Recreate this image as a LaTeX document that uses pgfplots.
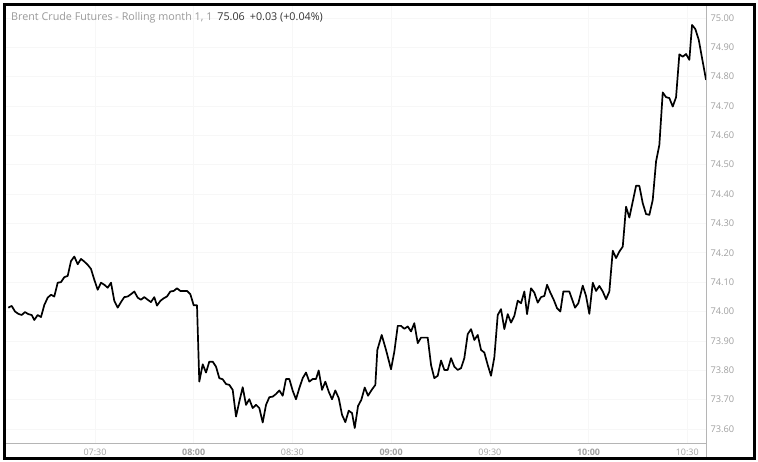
\documentclass[border=0pt]{standalone}
\usepackage{pgfplots}
\pgfplotsset{compat=1.18}
\usepackage{fontspec}
\setmainfont{Open Sans}
\definecolor{lbl}{HTML}{A0A0A0}
\definecolor{lblb}{HTML}{808080}
\definecolor{ttl}{HTML}{9A9A9A}
\definecolor{val}{HTML}{333333}
\definecolor{axl}{HTML}{B5B5B5}
\definecolor{grd}{HTML}{F7F7F7}
\begin{document}
\begin{tikzpicture}
\path[use as bounding box] (0,0) rectangle (758bp,462bp);
\begin{axis}[
  at={(6bp,19bp)}, anchor=south west,
  scale only axis, width=700bp, height=438bp,
  xmin=2.95, xmax=215.7, ymin=73.552, ymax=75.044,
  axis x line*=bottom, axis y line*=right,
  axis line style={axl, line width=0.8bp},
  x axis line style={-}, y axis line style={-},
  major tick length=0pt,
  grid=major, grid style={grd, line width=0.6bp},
  xtick={30,60,90,120,150,180,210},
  xticklabels={07:30,\textbf{08:00},08:30,\textbf{09:00},09:30,\textbf{10:00},10:30},
  x tick label style={font=\fontsize{9}{10}\selectfont, text=lbl, yshift=-2bp},
  ytick={73.6,73.7,73.8,73.9,74.0,74.1,74.2,74.3,74.4,74.5,74.6,74.7,74.8,74.9,75.0},
  yticklabel pos=right,
  y tick label style={font=\fontsize{9.3}{10}\selectfont, text=lbl, xshift=1bp},
  /pgf/number format/assume math mode=true,
  yticklabel={\pgfmathprintnumber[fixed,precision=2,fixed zerofill]{\tick}},
  clip=true,
]
\addplot[black, line width=1.7bp, line join=round] table {
m v
3.65 74.013
4.68 74.019
5.68 74.000
6.69 73.992
7.72 73.988
8.72 73.998
9.73 73.991
10.76 73.988
11.55 73.971
12.58 73.988
13.59 73.981
14.59 74.022
15.62 74.047
16.63 74.057
17.63 74.051
18.66 74.098
19.67 74.100
20.67 74.117
21.70 74.121
22.71 74.172
23.71 74.187
24.74 74.161
25.74 74.179
26.75 74.170
27.78 74.159
28.78 74.145
29.79 74.108
30.82 74.074
31.82 74.098
32.83 74.091
33.86 74.081
34.86 74.098
35.87 74.036
36.90 74.013
37.90 74.032
38.91 74.049
39.94 74.051
40.94 74.059
41.95 74.068
42.98 74.047
43.98 74.040
44.98 74.049
46.02 74.040
47.02 74.032
48.02 74.049
48.84 74.020
49.85 74.036
50.88 74.045
51.88 74.051
52.89 74.068
53.92 74.070
54.92 74.079
55.93 74.070
56.96 74.070
57.96 74.070
58.97 74.059
60.00 74.021
61.00 74.021
61.70 73.761
62.74 73.820
63.74 73.792
64.74 73.829
65.78 73.829
66.78 73.812
67.78 73.773
68.81 73.769
69.82 73.753
70.82 73.750
71.85 73.733
72.86 73.642
73.86 73.693
74.89 73.742
75.90 73.682
76.90 73.701
77.93 73.671
78.94 73.682
79.94 73.671
80.97 73.622
81.98 73.682
82.98 73.708
84.01 73.710
85.02 73.719
86.02 73.731
87.05 73.713
88.05 73.770
89.06 73.770
90.09 73.730
91.09 73.701
92.10 73.739
93.13 73.773
94.13 73.792
95.14 73.761
96.17 73.770
97.17 73.770
97.99 73.799
99.00 73.733
100.00 73.761
101.03 73.727
102.04 73.701
103.04 73.731
104.07 73.705
105.08 73.648
106.08 73.623
107.11 73.662
108.12 73.654
108.94 73.603
109.94 73.678
110.94 73.699
111.98 73.741
112.98 73.713
113.98 73.731
115.20 73.750
115.81 73.869
117.14 73.920
118.45 73.869
119.97 73.803
120.97 73.863
122.01 73.951
123.01 73.951
124.01 73.941
125.05 73.949
126.05 73.932
127.05 73.960
128.09 73.892
129.09 73.911
130.09 73.911
131.12 73.911
132.13 73.818
133.13 73.773
134.16 73.781
135.17 73.833
136.17 73.801
137.20 73.801
138.21 73.841
139.21 73.812
140.24 73.801
141.25 73.807
142.25 73.841
143.28 73.923
144.29 73.940
145.29 73.903
146.32 73.920
147.33 73.869
148.33 73.860
149.36 73.818
150.36 73.781
151.37 73.844
152.40 73.988
153.40 74.008
154.41 73.940
155.44 73.991
156.44 73.962
157.45 73.985
158.48 74.037
159.48 74.028
160.49 74.068
161.31 73.991
162.52 74.079
163.53 74.064
164.56 74.030
165.56 74.049
166.57 74.053
167.39 74.091
168.39 74.064
169.42 74.040
170.43 74.011
171.43 74.000
172.34 74.068
174.16 74.068
175.90 74.013
176.90 74.028
178.24 74.088
179.24 74.053
180.24 73.992
181.28 74.098
182.28 74.070
183.28 74.087
184.32 74.068
185.32 74.042
186.32 74.068
187.36 74.207
188.36 74.182
189.36 74.204
190.40 74.221
191.40 74.357
192.40 74.320
193.43 74.374
194.44 74.428
195.44 74.428
196.47 74.369
197.48 74.332
198.48 74.329
199.51 74.380
200.52 74.511
201.52 74.567
202.55 74.746
203.56 74.730
204.56 74.727
205.59 74.698
206.60 74.730
207.60 74.876
208.63 74.868
209.64 74.877
210.64 74.857
211.46 74.976
212.46 74.962
213.50 74.925
214.50 74.863
215.71 74.789
};
\end{axis}
\draw[axl, line width=0.8bp] (706bp,19bp) -- (706bp,3bp);
\node[anchor=west, inner sep=0pt, font=\fontsize{10.8}{12}\selectfont] at (11bp,444bp)
  {\textcolor{ttl}{Brent Crude Futures - Rolling month 1, 1}\hspace{5bp}\textcolor{val}{75.06\hspace{5bp}+0.03 (+0.04\%)}};
\draw[black, line width=3bp] (4.5bp,3.5bp) rectangle (754.5bp,457.5bp);
\end{tikzpicture}
\end{document}
